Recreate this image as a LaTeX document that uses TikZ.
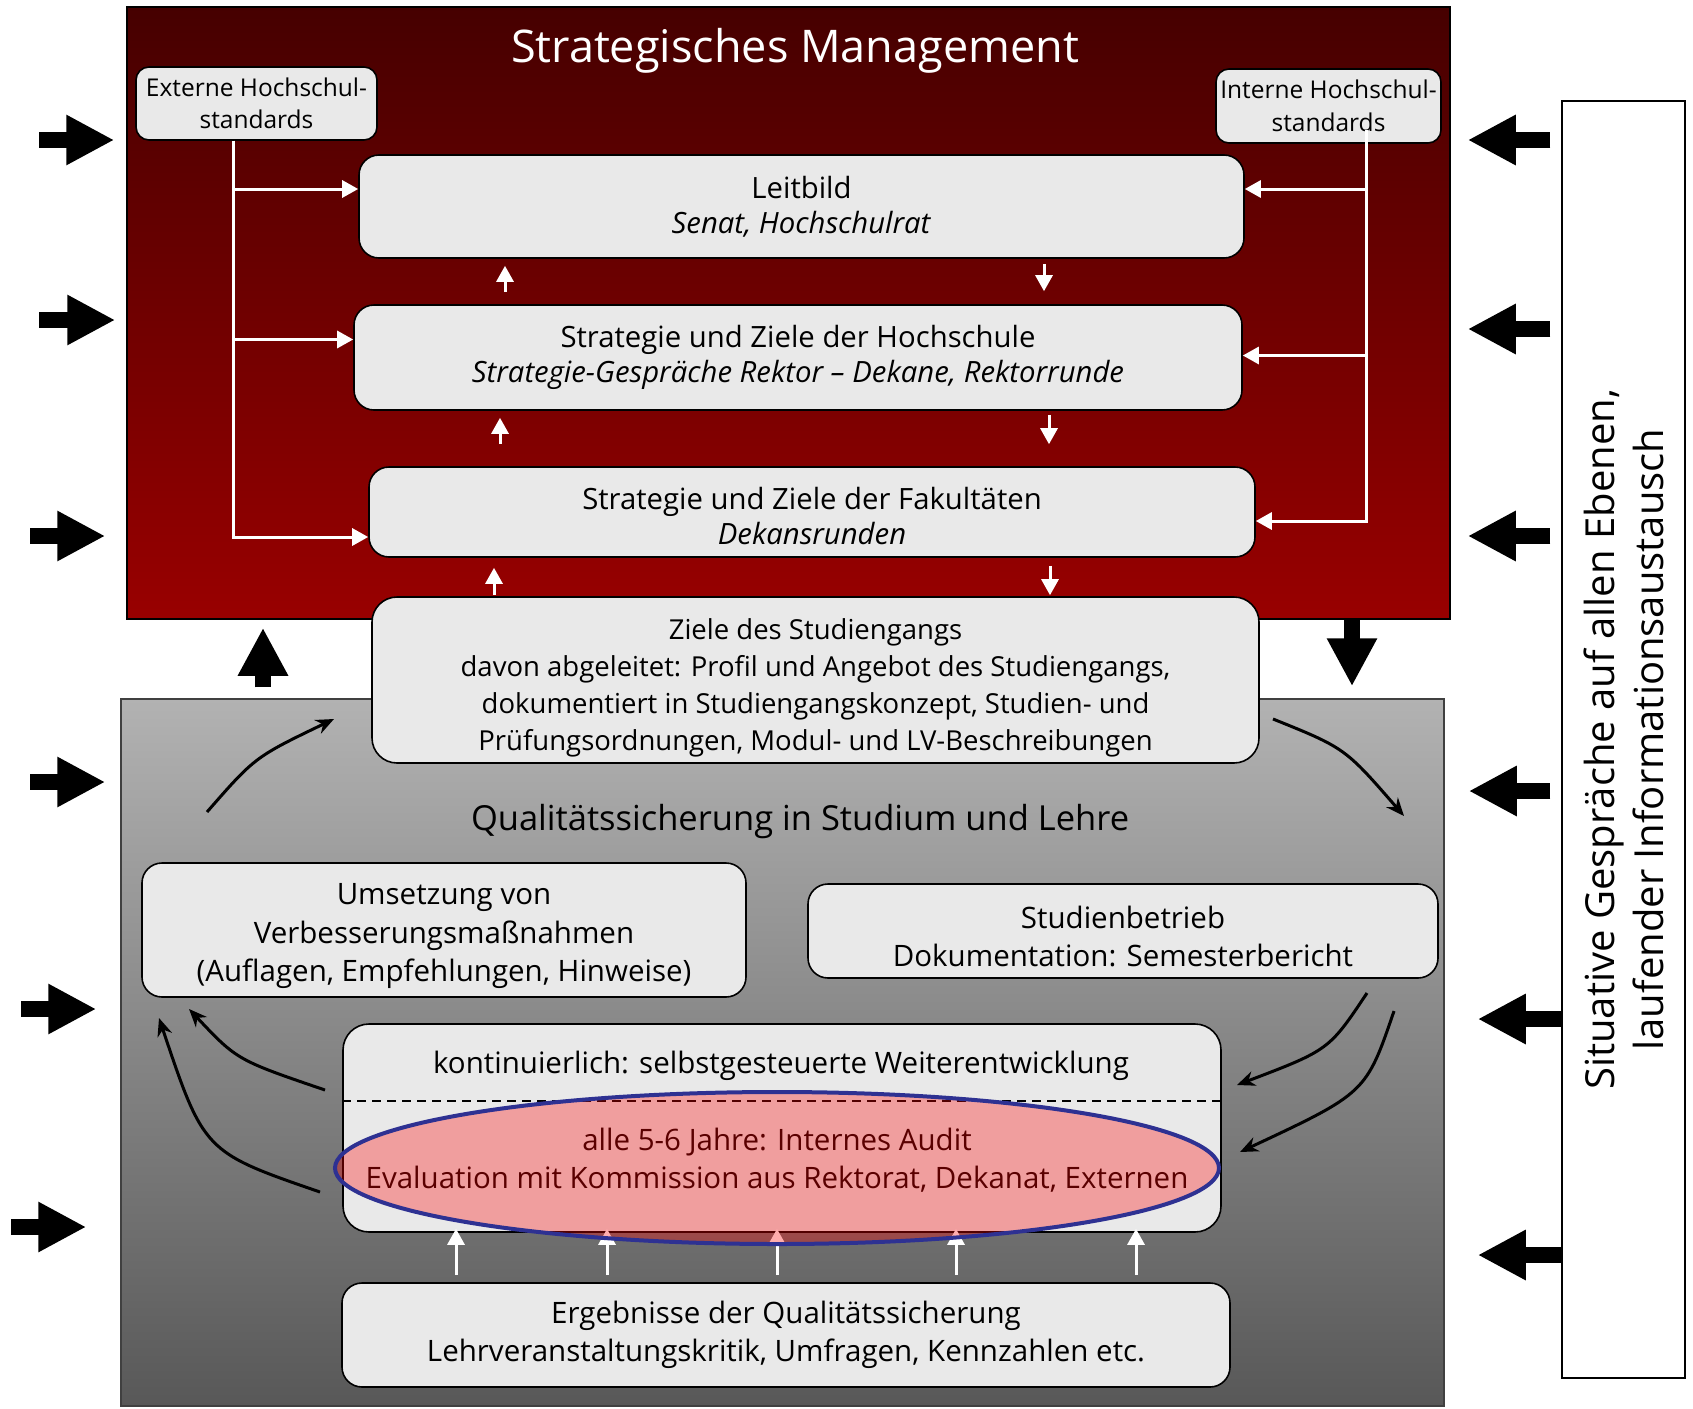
\documentclass[tikz,border=0pt]{standalone}
\usepackage{fontspec}
\setmainfont{Open Sans}
\usetikzlibrary{arrows.meta,shapes.geometric}

\definecolor{stratTop}{RGB}{70,0,0}
\definecolor{stratBottom}{RGB}{153,0,0}
\definecolor{qualTop}{RGB}{178,178,178}
\definecolor{qualBottom}{RGB}{88,88,88}
\definecolor{boxgray}{RGB}{233,233,233}
\definecolor{audblue}{RGB}{46,49,146}
\definecolor{audtext}{RGB}{90,0,0}

\newcommand\boxfont{\fontsize{29.5}{38.5}\selectfont}
\newcommand\topfont{\fontsize{29.3}{35}\selectfont}
\newcommand\zielefont{\fontsize{27.5}{37}\selectfont}
\newcommand\stdfont{\fontsize{24.5}{32.5}\selectfont}
\newcommand\titlefont{\fontsize{45}{50}\selectfont}
\newcommand\qualfont{\fontsize{34.5}{40}\selectfont}
\newcommand\sidefont{\fontsize{40}{49}\selectfont}

\begin{document}
\begin{tikzpicture}[x=1pt, y=-1pt,
  box/.style = {shape=rectangle, rounded corners=20pt, draw, line width=1.6pt,
    fill=boxgray, align=center, font=\boxfont, inner sep=0pt},
  topbox/.style = {box, font=\topfont},
  stdbox/.style = {box, rounded corners=13pt, font=\stdfont},
  wline/.style = {white, line width=3pt, -{Triangle[length=16pt,width=17pt]}},
  blockarrow/.style = {line width=16pt, -{Triangle[length=48pt,width=47pt]}},
  cyclearrow/.style = {line width=3pt, -{Stealth[length=18pt,width=15pt]}}]
  \useasboundingbox (0,0) rectangle (1693,1408);

  % the two levels
  \node[draw, line width=1.5pt, top color=stratTop, bottom color=stratBottom,
    minimum width=1323pt, minimum height=612pt, inner sep=0pt] (strat) at (788.5,313) {};
  \node[draw=black!75, line width=1.5pt, top color=qualTop, bottom color=qualBottom,
    minimum width=1323pt, minimum height=707pt, inner sep=0pt] (qual) at (782.5,1052.5) {};
  \node[white, font=\titlefont] (strattitle) at (795,51) {Strategisches Management};
  \node[font=\qualfont] (qualtitle) at (800,822) {Qualitätssicherung in Studium und Lehre};

  % side box
  \node[draw, line width=1.5pt, fill=white, minimum width=123pt,
    minimum height=1277pt] (info) at (1623.5,739.5) {};
  \node[rotate=90, align=center, font=\sidefont] (infotext) at (info.center)
    {Situative Gespräche auf allen Ebenen,\\laufender Informationsaustausch};

  % strategic boxes
  \node[stdbox, minimum width=241pt, minimum height=73pt] (ext) at (256.5,103.5)
    {Externe Hochschul-\\standards};
  \node[stdbox, minimum width=225pt, minimum height=74pt] (int) at (1328.5,106)
    {Interne Hochschul-\\standards};
  \node[topbox, minimum width=885pt, minimum height=103pt] (leit) at (801.5,206.5)
    {Leitbild\\\textit{Senat, Hochschulrat}};
  \node[topbox, minimum width=888pt, minimum height=105pt] (hoch) at (798,357.5)
    {Strategie und Ziele der Hochschule\\\textit{Strategie-Gespräche Rektor -- Dekane, Rektorrunde}};
  \node[topbox, minimum width=886pt, minimum height=90pt] (fak) at (812,512)
    {\rule{0pt}{30pt}Strategie und Ziele der Fakultäten\\\textit{Dekansrunden}};
  \node[box, font=\zielefont, rounded corners=25pt, minimum width=887pt, minimum height=166pt]
    (ziele) at (815.5,680)
    {\rule{0pt}{37pt}Ziele des Studiengangs\\davon abgeleitet: Profil und Angebot des Studiengangs,\\
     dokumentiert in Studiengangskonzept, Studien- und\\
     Prüfungsordnungen, Modul- und LV-Beschreibungen};

  % quality boxes
  \node[box, minimum width=604pt, minimum height=134pt] (umsetz) at (444,930)
    {\rule{0pt}{34pt}Umsetzung von\\Verbesserungsmaßnahmen\\(Auflagen, Empfehlungen, Hinweise)};
  \node[box, minimum width=630pt, minimum height=94pt] (betrieb) at (1123,931)
    {\rule{0pt}{33pt}Studienbetrieb\\Dokumentation: Semesterbericht};
  \node[box, rounded corners=26pt, minimum width=878pt, minimum height=208pt] (kont) at (782,1128) {};
  \node[font=\boxfont] (kontlabel) at (781,1066)
    {kontinuierlich: selbstgesteuerte Weiterentwicklung};
  \draw[dashed, dash pattern=on 9pt off 6pt, line width=1.2pt]
    (kont.west |- 0,1101) -- (kont.east |- 0,1101);
  \node[box, minimum width=888pt, minimum height=104pt] (ergeb) at (786,1335)
    {Ergebnisse der Qualitätssicherung\\Lehrveranstaltungskritik, Umfragen, Kennzahlen etc.};

  % results feed the review
  \draw[wline, shorten <=7pt, shorten >=-4pt] (ergeb.north -| 456,0) -- (kont.south -| 456,0);
  \draw[wline, shorten <=7pt, shorten >=-4pt] (ergeb.north -| 607,0) -- (kont.south -| 607,0);
  \draw[wline, shorten <=7pt, shorten >=-4pt] (ergeb.north -| 777,0) -- (kont.south -| 777,0);
  \draw[wline, shorten <=7pt, shorten >=-4pt] (ergeb.north -| 956,0) -- (kont.south -| 956,0);
  \draw[wline, shorten <=7pt, shorten >=-4pt] (ergeb.north -| 1136,0) -- (kont.south -| 1136,0);

  % internal audit
  \node[ellipse, draw=audblue, line width=4pt, fill=red, fill opacity=0.32,
    minimum width=884pt, minimum height=152pt, inner sep=0pt] (audit) at (777,1168) {};
  \node[font=\boxfont, text=audtext, align=center] (audittext) at (777,1160)
    {alle 5-6 Jahre: Internes Audit\\Evaluation mit Kommission aus Rektorat, Dekanat, Externen};

  % standards
  \coordinate (lx) at (233,0);
  \coordinate (rx) at (1366,0);
  \coordinate (inttop) at ([yshift=14pt]int.south);
  \draw[wline] (ext.south -| lx) |- ([yshift=17.5pt]leit.west);
  \draw[wline] (ext.south -| lx) |- ([yshift=18pt]hoch.west);
  \draw[wline] (ext.south -| lx) |- ([yshift=-25pt]fak.west);
  \draw[wline] (inttop -| rx) |- ([yshift=17.5pt]leit.east);
  \draw[wline] (inttop -| rx) |- ([yshift=2pt]hoch.east);
  \draw[wline] (inttop -| rx) |- ([yshift=-9pt]fak.east);

  % up and down between the levels
  \draw[wline, shorten <=12pt, shorten >=7pt] (hoch.north -| 505,0) -- (leit.south -| 505,0);
  \draw[wline, shorten <=22pt, shorten >=7pt] (fak.north -| 500,0) -- (hoch.south -| 500,0);
  \draw[wline, shorten <=1pt, shorten >=10pt] (ziele.north -| 494,0) -- (fak.south -| 494,0);
  \draw[wline, shorten <=5pt, shorten >=13pt] (leit.south -| 1044,0) -- (hoch.north -| 1044,0);
  \draw[wline, shorten <=4pt, shorten >=22pt] (hoch.south -| 1049,0) -- (fak.north -| 1049,0);
  \draw[wline, shorten <=8pt, shorten >=1pt] (fak.south -| 1050,0) -- (ziele.north -| 1050,0);

  % outer input
  \coordinate (in1) at (39,140);
  \coordinate (in2) at (39,320);
  \coordinate (in3) at (30,536);
  \coordinate (in4) at (30,782);
  \coordinate (in5) at (21,1009);
  \coordinate (in6) at (11,1227);
  \draw[blockarrow, shorten >=12pt] (in1) -- (strat.west |- in1);
  \draw[blockarrow, shorten >=11pt] (in2) -- (strat.west |- in2);
  \draw[blockarrow, shorten >=21pt] (in3) -- (strat.west |- in3);
  \draw[blockarrow, shorten >=15pt] (in4) -- (qual.west |- in4);
  \draw[blockarrow, shorten >=24pt] (in5) -- (qual.west |- in5);
  \draw[blockarrow, shorten >=34pt] (in6) -- (qual.west |- in6);
  \draw[blockarrow, shorten <=11pt, shorten >=17pt] (info.west |- 0,140) -- (strat.east |- 0,140);
  \draw[blockarrow, shorten <=11pt, shorten >=17pt] (info.west |- 0,329) -- (strat.east |- 0,329);
  \draw[blockarrow, shorten <=11pt, shorten >=17pt] (info.west |- 0,536) -- (strat.east |- 0,536);
  \draw[blockarrow, shorten <=11pt, shorten >=24pt] (info.west |- 0,791) -- (qual.east |- 0,791);
  \draw[blockarrow, shorten >=33pt] (info.west |- 0,1019) -- (qual.east |- 0,1019);
  \draw[blockarrow, shorten >=33pt] (info.west |- 0,1255) -- (qual.east |- 0,1255);
  \draw[blockarrow, shorten <=11pt, shorten >=8pt] (qual.north -| 263,0) -- (strat.south -| 263,0);
  \draw[blockarrow, shorten >=12pt] (strat.south -| 1352,0) -- (qual.north -| 1352,0);

  % quality cycle
  \coordinate (c1) at (207,812);   \coordinate (c2) at (334,719);
  \coordinate (c3) at (1273,719);  \coordinate (c4) at (1404,816);
  \coordinate (c5) at (1367,993);  \coordinate (c6) at (1237,1085);
  \coordinate (c7) at (1394,1011); \coordinate (c8) at (1240,1152);
  \coordinate (c9) at (325,1090);  \coordinate (c10) at (189,1009);
  \coordinate (c11) at (320,1192); \coordinate (c12) at (159,1018);
  \draw[cyclearrow] (c1) .. controls (255,757) .. (c2);
  \draw[cyclearrow] (c3) .. controls (1345,748) .. (c4);
  \draw[cyclearrow] (c5) .. controls (1329,1050) .. (c6);
  \draw[cyclearrow] (c7) .. controls (1366,1093) .. (c8);
  \draw[cyclearrow] (c9) .. controls (237,1060) .. (c10);
  \draw[cyclearrow] (c11) .. controls (204,1152) .. (c12);
\end{tikzpicture}
\end{document}
